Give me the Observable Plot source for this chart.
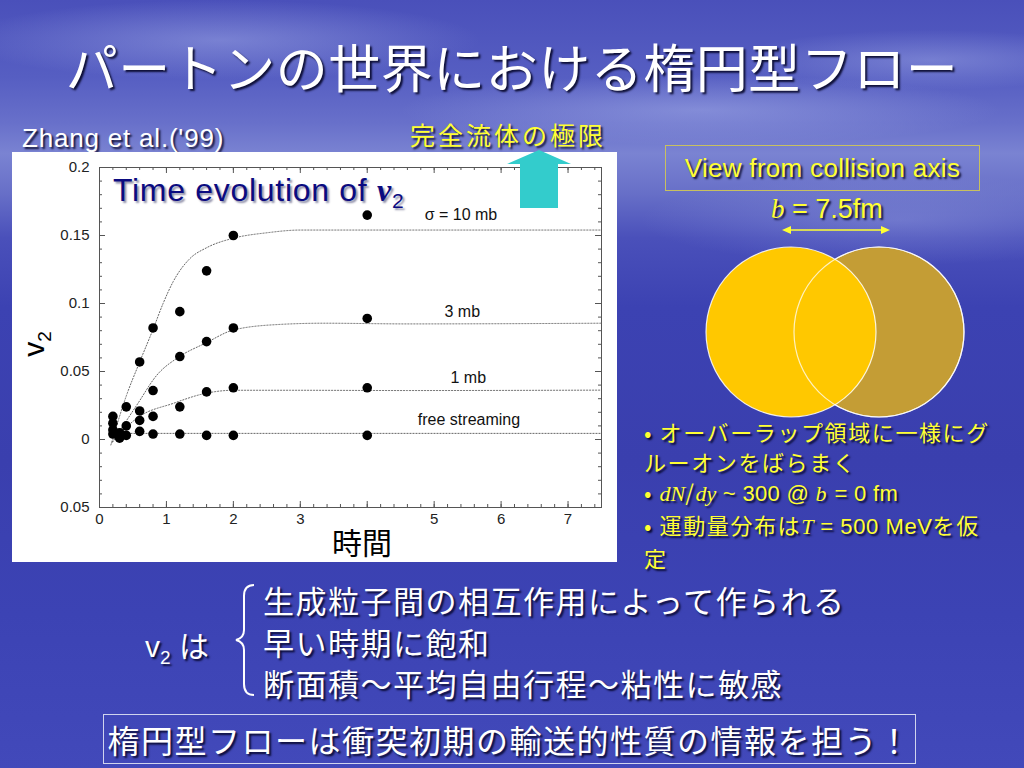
<!DOCTYPE html>
<html><head><meta charset="utf-8">
<script src="https://cdn.jsdelivr.net/npm/d3@7"></script>
<script src="https://cdn.jsdelivr.net/npm/@observablehq/plot@0.6"></script>
<style>
html,body{margin:0;padding:0;}
body{width:1024px;height:768px;overflow:hidden;position:relative;font-family:"Liberation Sans",Arial,sans-serif;
background:
 radial-gradient(ellipse 260px 40px at 220px 40px, rgba(170,180,235,0.45), rgba(170,180,235,0) 100%),
 radial-gradient(ellipse 300px 35px at 700px 110px, rgba(170,180,235,0.45), rgba(170,180,235,0) 100%),
 radial-gradient(ellipse 200px 30px at 930px 60px, rgba(170,180,235,0.4), rgba(170,180,235,0) 100%),
 radial-gradient(ellipse 260px 45px at 900px 220px, rgba(160,170,230,0.35), rgba(160,170,230,0) 100%),
 linear-gradient(to bottom, #4a50ba 0%, #565ec2 10%, #6870ca 16%, #7a83d2 20%, #6870c8 25%, #4a50ba 31%, #3c42b2 40%, #3a3fae 60%, #3c43b4 80%, #4249ba 100%);}
.abs{position:absolute;white-space:nowrap;}
.jp{font-family:"Noto Sans CJK JP",sans-serif;}
.sh{text-shadow:2px 2px 2px rgba(0,0,30,0.85);}
.y{color:#ffff33;}
.w{color:#ffffff;}
.serif{font-family:"Liberation Serif","DejaVu Serif",serif;font-style:italic;}
.lat{font-family:"Liberation Sans",Arial,sans-serif;}
#chart{position:absolute;left:12px;top:152px;}
</style></head>
<body>
<div class="abs jp w sh" style="left:0;width:1024px;top:32px;text-align:center;font-size:52px;line-height:68px;letter-spacing:0.5px;">パートンの世界における楕円型フロー</div>
<div class="abs w sh" style="left:22px;top:123px;font-size:26px;letter-spacing:0.8px;">Zhang et al.('99)</div>
<div class="abs jp y sh" style="left:410px;top:117px;font-size:25px;line-height:34px;letter-spacing:3px;">完全流体の極限</div>

<div id="chart"></div>

<div class="abs" style="left:113px;top:172px;font-size:32px;letter-spacing:0.7px;color:#0b0b80;text-shadow:2px 2px 2px rgba(0,0,60,0.45);">Time evolution of <span class="serif" style="font-weight:bold;">v</span><sub style="font-size:21px;">2</sub></div>
<svg class="abs" style="left:505px;top:148px;" width="68" height="62">
  <polygon points="34,2 66,16 53,16 53,60 15,60 15,16 2,16" fill="#33cccc"/>
</svg>
<div class="abs" style="left:14px;top:322px;width:40px;height:44px;font-size:30px;color:#000;transform:rotate(-90deg);transform-origin:center;line-height:44px;text-align:center;">v<sub style="font-size:19px;">2</sub></div>
<div class="abs jp" style="left:322px;top:521px;width:80px;height:40px;background:#fff;color:#000;font-size:30px;line-height:40px;text-align:center;">時間</div>

<div class="abs y sh" style="left:665px;top:145px;width:313px;height:44px;border:1.5px solid #c8c060;font-size:26px;letter-spacing:0.3px;line-height:44px;text-align:center;">View from collision axis</div>
<div class="abs y sh" style="left:771px;top:194px;font-size:27px;"><span class="serif">b</span> = 7.5fm</div>
<svg class="abs" style="left:780px;top:222px;" width="112" height="16">
  <line x1="9" y1="8" x2="103" y2="8" stroke="#ffff33" stroke-width="1.5"/>
  <polygon points="2,8 11,4 11,12" fill="#ffff33"/>
  <polygon points="110,8 101,4 101,12" fill="#ffff33"/>
</svg>
<svg class="abs" style="left:695px;top:237px;" width="280" height="190">
  <circle cx="184" cy="95" r="85" fill="#c49d35" stroke="rgba(255,255,255,0.85)" stroke-width="1.2"/>
  <circle cx="96" cy="95" r="85" fill="#ffc800" stroke="rgba(255,255,255,0.85)" stroke-width="1.2"/>
  <circle cx="184" cy="95" r="85" fill="none" stroke="rgba(255,255,255,0.75)" stroke-width="1.2"/>
</svg>
<div class="abs jp y sh" style="left:644px;top:416px;font-size:22px;line-height:30px;letter-spacing:1.6px;">
• オーバーラップ領域に一様にグ<br>ルーオンをばらまく<br>• <span class="serif" style="letter-spacing:0">dN</span>/<span class="serif" style="letter-spacing:0">dy</span> <span class="lat" style="letter-spacing:0.3px">~ 300 @ </span><span class="serif">b</span><span class="lat" style="letter-spacing:0.3px"> = 0 fm</span><br>• 運動量分布は<span class="serif" style="letter-spacing:0">T</span><span class="lat" style="letter-spacing:0.6px"> = 500 MeV</span>を仮<br>定</div>

<div class="abs w sh" style="left:145px;top:622px;font-size:30px;">v<sub style="font-size:19px;">2</sub> <span class="jp">は</span></div>
<svg class="abs" style="left:232px;top:582px;" width="30" height="116">
  <path d="M22,3 Q12,3 12,14 L12,48 Q12,56 4,58 Q12,60 12,68 L12,102 Q12,113 22,113" fill="none" stroke="#fff" stroke-width="2"/>
</svg>
<div class="abs jp w sh" style="left:263px;top:579px;font-size:31px;line-height:41.5px;letter-spacing:1.5px;">生成粒子間の相互作用によって作られる<br>早い時期に飽和<br>断面積～平均自由行程～粘性に敏感</div>
<div class="abs jp w sh" style="left:103px;top:714px;width:811px;height:48px;border:1.5px solid #d0d4ee;font-size:32px;line-height:48px;text-align:center;letter-spacing:1.5px;">楕円型フローは衝突初期の輸送的性質の情報を担う！</div>

<script>
// data
const t10 = [0.2, 0.4, 0.6, 0.8, 1.2, 1.6, 2.0, 4.0];
const v10 = [0.017, 0.024, 0.057, 0.082, 0.094, 0.124, 0.150, 0.165];
const t3 = [0.2, 0.4, 0.6, 0.8, 1.2, 1.6, 2.0, 4.0];
const v3 = [0.012, 0.010, 0.021, 0.036, 0.061, 0.072, 0.082, 0.089];
const t1 = [0.2, 0.3, 0.6, 0.8, 1.2, 1.6, 2.0, 4.0];
const v1 = [0.007, 0.005, 0.014, 0.017, 0.024, 0.035, 0.038, 0.038];
const tFs = [0.2, 0.3, 0.4, 0.6, 0.8, 1.2, 1.6, 2.0, 4.0];
const vFs = [0.004, 0.001, 0.003, 0.006, 0.004, 0.004, 0.003, 0.003, 0.003];

// dotted fit curves
const c10t = [0.17, 0.4, 0.6, 0.8, 0.95, 1.1, 1.35, 1.6, 2.0, 2.5, 3.0, 4.0, 5.0, 7.5];
const c10v = [-0.004, 0.032, 0.057, 0.081, 0.100, 0.116, 0.133, 0.141, 0.148, 0.152, 0.154, 0.154, 0.154, 0.154];
const c3t = [0.19, 0.56, 0.86, 1.18, 1.59, 2.0, 2.65, 3.35, 4.6, 7.5];
const c3v = [-0.002, 0.0255, 0.0475, 0.0605, 0.071, 0.0805, 0.0845, 0.0855, 0.085, 0.0855];
const c1t = [0.19, 0.56, 1.11, 1.59, 2.0, 2.85, 4.6, 7.5];
const c1v = [-0.002, 0.0157, 0.0267, 0.034, 0.0362, 0.0362, 0.036, 0.0363];
const cFt = [0.2, 7.5];
const cFv = [0.0045, 0.0045];

const labels = ["σ = 10 mb", "3 mb", "1 mb", "free streaming"];
const labelT = [5.4, 5.42, 5.51, 5.52];
const labelV = [0.165, 0.094, 0.045, 0.0147];

const xTicks = [0, 1, 2, 3, 4, 5, 6, 7];
const yTicks = [-0.05, 0, 0.05, 0.1, 0.15, 0.2];
const xMinor = d3.range(0, 7.5001, 0.2);
const yMinor = d3.range(-0.05, 0.2001, 0.01);

const pts = [];
[[t10, v10], [t3, v3], [t1, v1], [tFs, vFs]].forEach(([ts, vs], k) =>
  ts.forEach((t, i) => pts.push({t, v: vs[i], s: labels[k]})));
const curves = [];
[[c10t, c10v], [c3t, c3v], [c1t, c1v], [cFt, cFv]].forEach(([ts, vs], k) =>
  ts.forEach((t, i) => curves.push({t, v: vs[i], s: labels[k]})));
const lab = labels.map((s, i) => ({s, t: labelT[i], v: labelV[i]}));

const W = 605, H = 410, mL = 87, mR = 16, mT = 15, mB = 55;
const fw = W - mL - mR, fh = H - mT - mB;
const major = 6, minor = 3;

const chart = Plot.plot({
  width: W, height: H,
  marginLeft: mL, marginRight: mR, marginTop: mT, marginBottom: mB,
  style: {background: "#ffffff", fontFamily: "Liberation Sans, Arial, sans-serif", fontSize: "15px", color: "#222"},
  x: {domain: [0, 7.5]},
  y: {domain: [-0.05, 0.2]},
  marks: [
    Plot.frame({stroke: "#555", strokeWidth: 1}),
    Plot.tickX(xTicks, {x: d => d, insetTop: fh - major, stroke: "#555"}),
    Plot.tickX(xTicks, {x: d => d, insetBottom: fh - major, stroke: "#555"}),
    Plot.tickX(xMinor, {x: d => d, insetTop: fh - minor, stroke: "#555"}),
    Plot.tickX(xMinor, {x: d => d, insetBottom: fh - minor, stroke: "#555"}),
    Plot.tickY(yTicks, {y: d => d, insetRight: fw - major, stroke: "#555"}),
    Plot.tickY(yTicks, {y: d => d, insetLeft: fw - major, stroke: "#555"}),
    Plot.tickY(yMinor, {y: d => d, insetRight: fw - minor, stroke: "#555"}),
    Plot.tickY(yMinor, {y: d => d, insetLeft: fw - minor, stroke: "#555"}),
    Plot.axisX({ticks: xTicks, tickSize: 0, tickPadding: 6, tickFormat: d => d === 4 ? "" : String(d), label: null, fontSize: 15}),
    Plot.axisY({ticks: yTicks, tickSize: 0, tickPadding: 10, tickFormat: d => d === 0 ? "0" : String(+Math.abs(d).toFixed(2)), label: null, fontSize: 15}),
    Plot.line(curves, {x: "t", y: "v", z: "s", curve: "monotone-x", stroke: "#666", strokeWidth: 1, strokeDasharray: "1.2,1.8"}),
    Plot.dot(pts, {x: "t", y: "v", r: 4.8, fill: "#000", stroke: "none"}),
    Plot.text(lab, {x: "t", y: "v", text: "s", fill: "#111", fontSize: 16})
  ]
});
document.getElementById("chart").appendChild(chart);
</script>
</body></html>
